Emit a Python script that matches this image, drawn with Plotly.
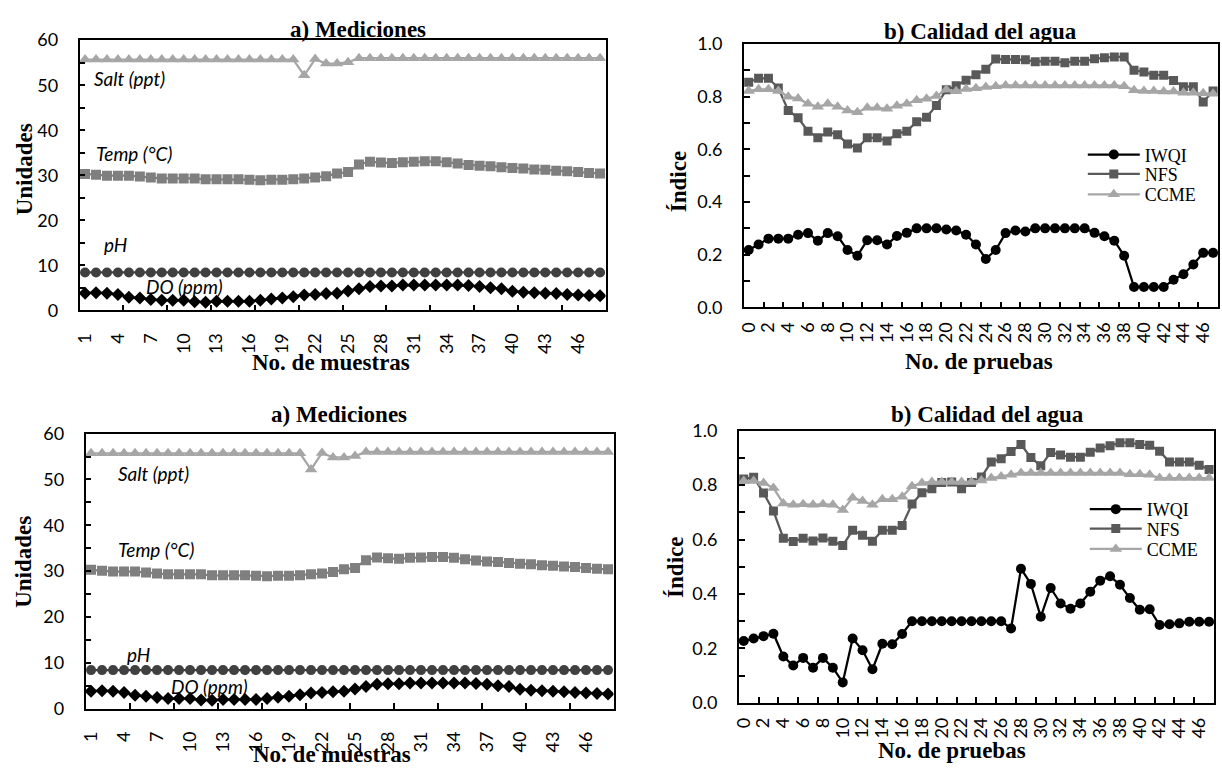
import plotly.graph_objects as go

W, H = 1222, 774

# ---------------- data ----------------
muestras = list(range(1, 49))
pruebas = list(range(0, 48))

salt = [55.7, 55.7, 55.7, 55.7, 55.7, 55.7, 55.7, 55.7, 55.7, 55.7,
        55.7, 55.7, 55.7, 55.7, 55.7, 55.7, 55.7, 55.7, 55.7, 55.7,
        52.2, 55.8, 54.8, 54.8, 55.1, 56.0, 56.0, 56.0, 56.0, 56.0,
        56.0, 56.0, 56.0, 56.0, 56.0, 56.0, 56.0, 56.0, 56.0, 56.0,
        56.0, 56.0, 56.0, 56.0, 56.0, 56.0, 56.0, 56.0]
temp = [30.3, 30.1, 29.9, 29.9, 29.9, 29.7, 29.5, 29.3, 29.3, 29.3,
        29.3, 29.1, 29.1, 29.1, 29.1, 29.0, 28.9, 29.0, 29.0, 29.1,
        29.3, 29.5, 29.8, 30.4, 30.7, 32.4, 33.0, 32.8, 32.7, 32.9,
        33.0, 33.1, 33.1, 32.9, 32.6, 32.3, 32.1, 32.0, 31.8, 31.6,
        31.5, 31.3, 31.2, 31.0, 30.9, 30.7, 30.5, 30.4]
ph = [8.4, 8.4, 8.4, 8.4, 8.4, 8.4, 8.4, 8.4, 8.4, 8.4,
      8.4, 8.4, 8.4, 8.4, 8.4, 8.4, 8.4, 8.4, 8.4, 8.4,
      8.4, 8.4, 8.4, 8.4, 8.4, 8.4, 8.4, 8.4, 8.4, 8.4,
      8.4, 8.4, 8.4, 8.4, 8.4, 8.4, 8.4, 8.4, 8.4, 8.4,
      8.4, 8.4, 8.4, 8.4, 8.4, 8.4, 8.4, 8.4]
do_ppm = [3.8, 3.9, 3.8, 3.5, 2.9, 2.7, 2.4, 2.2, 2.2, 2.2,
          1.9, 1.8, 2.0, 2.0, 2.0, 2.0, 2.2, 2.5, 2.7, 3.0,
          3.4, 3.5, 3.7, 3.8, 4.3, 4.8, 5.3, 5.4, 5.4, 5.6,
          5.6, 5.6, 5.6, 5.6, 5.6, 5.5, 5.3, 5.0, 4.8, 4.2,
          4.0, 3.9, 3.8, 3.7, 3.5, 3.4, 3.3, 3.2]

iwqi_1 = [0.218, 0.239, 0.261, 0.261, 0.261, 0.276, 0.282, 0.253, 0.282, 0.270,
          0.218, 0.196, 0.255, 0.255, 0.239, 0.271, 0.283, 0.300, 0.300, 0.300,
          0.296, 0.292, 0.276, 0.239, 0.184, 0.218, 0.282, 0.292, 0.288, 0.300,
          0.300, 0.300, 0.300, 0.300, 0.300, 0.283, 0.270, 0.253, 0.196, 0.077,
          0.077, 0.077, 0.077, 0.105, 0.126, 0.163, 0.207, 0.207]
nfs_1 = [0.855, 0.870, 0.870, 0.833, 0.748, 0.720, 0.669, 0.644, 0.666, 0.656,
         0.620, 0.605, 0.644, 0.644, 0.632, 0.659, 0.669, 0.705, 0.722, 0.767,
         0.826, 0.842, 0.863, 0.883, 0.904, 0.943, 0.941, 0.941, 0.940, 0.933,
         0.935, 0.935, 0.929, 0.935, 0.935, 0.944, 0.948, 0.951, 0.951, 0.901,
         0.894, 0.882, 0.882, 0.862, 0.838, 0.838, 0.780, 0.822]
ccme_1 = [0.822, 0.828, 0.828, 0.822, 0.800, 0.793, 0.773, 0.762, 0.773, 0.762,
          0.748, 0.741, 0.758, 0.758, 0.754, 0.766, 0.773, 0.787, 0.792, 0.803,
          0.826, 0.821, 0.829, 0.832, 0.837, 0.840, 0.843, 0.843, 0.843, 0.843,
          0.843, 0.843, 0.843, 0.843, 0.843, 0.843, 0.843, 0.843, 0.840, 0.825,
          0.822, 0.822, 0.820, 0.820, 0.815, 0.815, 0.813, 0.811]

iwqi_2 = [0.227, 0.236, 0.245, 0.254, 0.170, 0.137, 0.165, 0.129, 0.165, 0.129,
          0.075, 0.236, 0.193, 0.123, 0.217, 0.215, 0.253, 0.300, 0.300, 0.300,
          0.300, 0.300, 0.300, 0.300, 0.300, 0.300, 0.300, 0.273, 0.493, 0.437,
          0.316, 0.422, 0.365, 0.346, 0.365, 0.408, 0.449, 0.465, 0.434, 0.385,
          0.342, 0.344, 0.286, 0.289, 0.292, 0.298, 0.298, 0.298]
nfs_2 = [0.823, 0.829, 0.771, 0.705, 0.605, 0.593, 0.605, 0.595, 0.606, 0.594,
         0.578, 0.634, 0.616, 0.594, 0.634, 0.634, 0.652, 0.731, 0.772, 0.787,
         0.810, 0.812, 0.787, 0.810, 0.830, 0.885, 0.897, 0.924, 0.949, 0.902,
         0.871, 0.920, 0.911, 0.903, 0.903, 0.921, 0.937, 0.945, 0.956, 0.956,
         0.949, 0.947, 0.925, 0.885, 0.885, 0.885, 0.873, 0.858]
ccme_2 = [0.815, 0.815, 0.808, 0.790, 0.733, 0.728, 0.730, 0.728, 0.730, 0.728,
          0.709, 0.754, 0.742, 0.728, 0.748, 0.748, 0.757, 0.796, 0.808, 0.812,
          0.812, 0.812, 0.812, 0.812, 0.817, 0.826, 0.832, 0.838, 0.845, 0.845,
          0.845, 0.845, 0.845, 0.845, 0.845, 0.845, 0.845, 0.845, 0.845, 0.840,
          0.840, 0.838, 0.826, 0.826, 0.826, 0.826, 0.826, 0.826]

muestras_labels = [1, 4, 7, 10, 13, 16, 19, 22, 25, 28, 31, 34, 37, 40, 43, 46]
muestras_marks = [4.5, 8.5, 12.5, 16.5, 20.5, 24.5, 28.5, 32.5, 36.5, 40.5, 44.5]
pruebas_labels = list(range(0, 47, 2))
pruebas_marks = [v + 1.5 for v in range(0, 46, 2)]

# ---------------- styling ----------------
SERIF = "Liberation Serif"
SANS = "Lato"
C_BLACK = "#000000"
C_DARK = "#404040"
C_MID = "#7f7f7f"
C_NFS = "#595959"
C_LIGHT = "#a6a6a6"

# plot-area boxes in pixels: (left, right, top, bottom)
boxes = {
    "TL": (73, 602, 29, 307),
    "TR": (741, 1218, 33, 304),
    "BL": (79, 610, 434, 717),
    "BR": (736, 1214, 431, 711),
}


def fx(p):
    return p / W


def fy(p):
    return 1 - p / H


fig = go.Figure()

axis_common = dict(showline=True, mirror=True, linecolor="black", linewidth=1.5,
                   showgrid=False, zeroline=False,
                   tickfont=dict(family=SANS, size=18, color="black"))


def add_axes(n, box, kind):
    l, r, t, b = box
    xa = "xaxis" if n == 1 else f"xaxis{n}"
    ya = "yaxis" if n == 1 else f"yaxis{n}"
    xid = "x" if n == 1 else f"x{n}"
    yid = "y" if n == 1 else f"y{n}"
    if kind == "med":
        xr, xl, xm = [0.5, 48.5], muestras_labels, muestras_marks
        yr, yv, ym = [0, 60], list(range(0, 61, 10)), 5
        ytext = [str(v) for v in yv]
        xstand = 14
    else:
        xr, xl, xm = [-0.5, 47.5], pruebas_labels, pruebas_marks
        yr, yv, ym = [0, 1], [0, 0.2, 0.4, 0.6, 0.8, 1.0], 0.1
        ytext = ["0.0", "0.2", "0.4", "0.6", "0.8", "1.0"]
        xstand = 6
    fig.layout[xa] = dict(axis_common, domain=[fx(l), fx(r)], anchor=yid, range=xr,
                          tickmode="array", tickvals=xl, ticktext=[str(v) for v in xl],
                          ticks="", tickangle=-90, ticklabelstandoff=xstand,
                          minor=dict(tickmode="array", tickvals=xm, ticks="inside",
                                     ticklen=6, tickwidth=1.5, tickcolor="black"))
    fig.layout[ya] = dict(axis_common, domain=[fy(b), fy(t)], anchor=xid, range=yr,
                          tickmode="array", tickvals=yv, ticktext=ytext,
                          ticks="inside", ticklen=6, tickwidth=1.5, tickcolor="black",
                          ticklabelstandoff=16,
                          minor=dict(dtick=ym, tick0=0, ticks="inside", ticklen=6,
                                     tickwidth=1.5, tickcolor="black"))
    return xid, yid


def med_traces(xid, yid):
    fig.add_trace(go.Scatter(x=muestras, y=do_ppm, xaxis=xid, yaxis=yid, mode="lines+markers",
                             line=dict(color=C_BLACK, width=2.25),
                             marker=dict(symbol="diamond", size=10, color=C_BLACK),
                             showlegend=False))
    fig.add_trace(go.Scatter(x=muestras, y=ph, xaxis=xid, yaxis=yid, mode="lines+markers",
                             line=dict(color=C_DARK, width=2.25),
                             marker=dict(symbol="circle", size=10, color=C_DARK),
                             showlegend=False))
    fig.add_trace(go.Scatter(x=muestras, y=temp, xaxis=xid, yaxis=yid, mode="lines+markers",
                             line=dict(color=C_MID, width=2.25),
                             marker=dict(symbol="square", size=10, color=C_MID),
                             showlegend=False))
    fig.add_trace(go.Scatter(x=muestras, y=salt, xaxis=xid, yaxis=yid, mode="lines+markers",
                             line=dict(color=C_LIGHT, width=2.25),
                             marker=dict(symbol="triangle-up", size=11, color=C_LIGHT),
                             showlegend=False))


def agua_traces(xid, yid, iwqi, nfs, ccme, legends):
    specs = [("IWQI", iwqi, C_BLACK, "circle", 10),
             ("NFS", nfs, C_NFS, "square", 9),
             ("CCME", ccme, C_LIGHT, "triangle-up", 11)]
    for (name, vals, col, sym, sz), lg in zip(specs, legends):
        fig.add_trace(go.Scatter(x=pruebas, y=vals, xaxis=xid, yaxis=yid, name=name,
                                 mode="lines+markers", line=dict(color=col, width=2.25),
                                 marker=dict(symbol=sym, size=sz, color=col),
                                 legend=lg, showlegend=True))


x1, y1 = add_axes(1, boxes["TL"], "med")
x2, y2 = add_axes(2, boxes["TR"], "agua")
x3, y3 = add_axes(3, boxes["BL"], "med")
x4, y4 = add_axes(4, boxes["BR"], "agua")

med_traces(x1, y1)
agua_traces(x2, y2, iwqi_1, nfs_1, ccme_1, ["legend", "legend2", "legend3"])
med_traces(x3, y3)
agua_traces(x4, y4, iwqi_2, nfs_2, ccme_2, ["legend4", "legend5", "legend6"])

# one legend entry per row, stacked at the right of each quality panel
legend_rows = {"legend": (1082, 147), "legend2": (1082, 167), "legend3": (1082, 188),
               "legend4": (1084, 512), "legend5": (1084, 532), "legend6": (1084, 553)}
for key, (lx, ly) in legend_rows.items():
    fig.layout[key] = dict(x=fx(lx), y=fy(ly), xanchor="left", yanchor="middle",
                           xref="paper", yref="paper", bgcolor="rgba(0,0,0,0)",
                           borderwidth=0, itemwidth=52,
                           font=dict(family=SERIF, size=18, color="black"),
                           itemclick=False)

ann = []


def text(x, y, s, size=23, bold=True, angle=0, xanchor="center"):
    ann.append(dict(x=fx(x), y=fy(y), xref="paper", yref="paper", text=f"<b>{s}</b>" if bold else s,
                    showarrow=False, textangle=angle, xanchor=xanchor, yanchor="middle",
                    font=dict(family=SERIF, size=size, color="black")))


# titles and axis titles
text(353, 18, "a) Mediciones")
text(979, 20, "b) Calidad del agua")
text(334, 414, "a) Mediciones")
text(986, 414, "b) Calidad del agua")
text(326, 361, "No. de muestras")
text(978, 360, "No. de pruebas")
text(327, 764, "No. de muestras")
text(950, 760, "No. de pruebas")
text(17, 162, "Unidades", angle=-90)
text(675, 175, "Índice", angle=-90)
text(17, 566, "Unidades", angle=-90)
text(673, 572, "Índice", angle=-90)


# series names written inside the measurement panels
def label(xid, yid, cx, vy, s):
    ann.append(dict(x=cx, y=vy, xref=xid, yref=yid, text=f"<i>{s}</i>", showarrow=False,
                    xanchor="left", yanchor="middle",
                    font=dict(family=SANS, size=19, color="black")))


label(x1, y1, 1.6, 51.4, "Salt (ppt)")
label(x1, y1, 1.8, 34.8, "Temp (°C)")
label(x1, y1, 2.5, 14.5, "pH")
label(x1, y1, 6.4, 5.2, "DO (ppm)")
label(x3, y3, 3.3, 51.2, "Salt (ppt)")
label(x3, y3, 3.3, 34.7, "Temp (°C)")
label(x3, y3, 4.1, 11.9, "pH")
label(x3, y3, 8.1, 4.9, "DO (ppm)")

fig.update_layout(width=W, height=H, margin=dict(l=0, r=0, t=0, b=0),
                  paper_bgcolor="white", plot_bgcolor="white", annotations=ann)

fig.write_html("out.html")
